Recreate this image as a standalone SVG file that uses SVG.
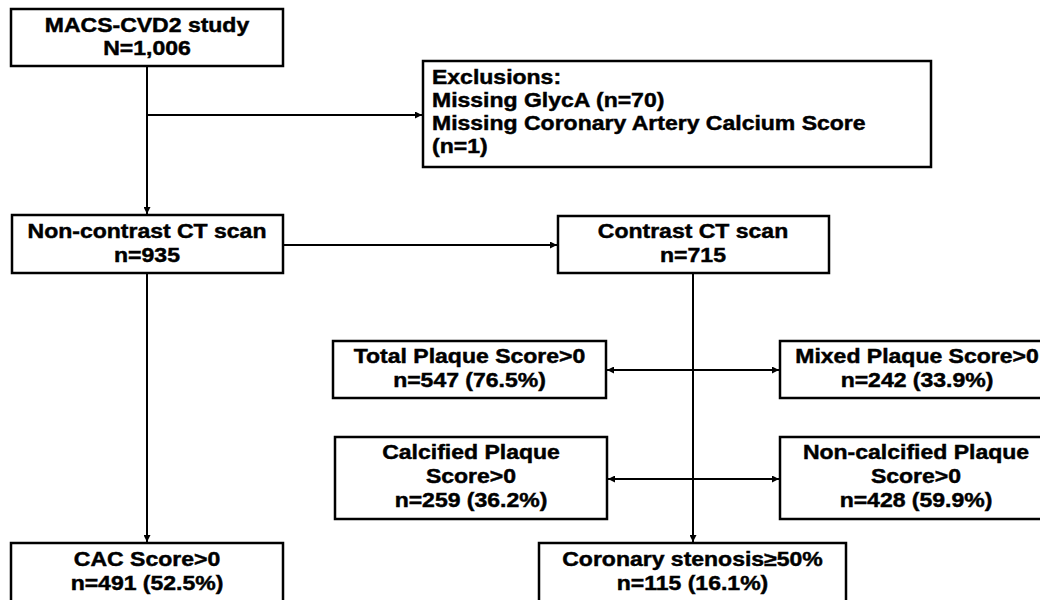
<svg xmlns="http://www.w3.org/2000/svg" width="1040" height="600" viewBox="0 0 1040 600">
  <style>
    .box { fill: #ffffff; stroke: #000000; stroke-width: 2.5; }
    .t { font-family: "Liberation Sans", Arial, sans-serif; font-weight: bold; font-size: 19.5px; fill: #000000; stroke: #000000; stroke-width: 0.45; text-anchor: middle; }
    .tl { font-family: "Liberation Sans", Arial, sans-serif; font-weight: bold; font-size: 19.5px; fill: #000000; stroke: #000000; stroke-width: 0.45; text-anchor: start; }
    .ln { stroke: #000000; stroke-width: 2; fill: none; }
  </style>
  <defs>
    <marker id="ah" viewBox="0 0 10 10" refX="10" refY="5" markerWidth="8" markerHeight="7" markerUnits="userSpaceOnUse" orient="auto-start-reverse">
      <path d="M0,0 L10,5 L0,10 z" fill="#000000"/>
    </marker>
  </defs>
  <rect width="1040" height="600" fill="#ffffff"/>

  <g id="connectors">
    <line class="ln" x1="147" y1="66" x2="147" y2="214" marker-end="url(#ah)"/>
    <line class="ln" x1="147" y1="115" x2="422" y2="115" marker-end="url(#ah)"/>
    <line class="ln" x1="283" y1="245" x2="557" y2="245" marker-end="url(#ah)"/>
    <line class="ln" x1="147" y1="273" x2="147" y2="542" marker-end="url(#ah)"/>
    <line class="ln" x1="693" y1="273" x2="693" y2="542" marker-end="url(#ah)"/>
    <line class="ln" x1="607" y1="370" x2="779" y2="370" marker-start="url(#ah)" marker-end="url(#ah)"/>
    <line class="ln" x1="608" y1="479" x2="779" y2="479" marker-start="url(#ah)" marker-end="url(#ah)"/>
  </g>

  <g id="macs">
    <rect class="box" x="11" y="9" width="272" height="57"/>
    <text class="t" transform="translate(147 0) scale(1.18 1)" x="0" y="32">MACS-CVD2 study</text>
    <text class="t" transform="translate(147 0) scale(1.18 1)" x="0" y="55">N=1,006</text>
  </g>

  <g id="exclusions">
    <rect class="box" x="423" y="61" width="508" height="106"/>
    <text class="tl" transform="translate(432 0) scale(1.18 1)" x="0" y="84">Exclusions:</text>
    <text class="tl" transform="translate(432 0) scale(1.18 1)" x="0" y="107">Missing GlycA (n=70)</text>
    <text class="tl" transform="translate(432 0) scale(1.18 1)" x="0" y="130">Missing Coronary Artery Calcium Score</text>
    <text class="tl" transform="translate(432 0) scale(1.18 1)" x="0" y="153">(n=1)</text>
  </g>

  <g id="noncontrast">
    <rect class="box" x="12" y="215" width="271" height="58"/>
    <text class="t" transform="translate(147 0) scale(1.18 1)" x="0" y="238">Non-contrast CT scan</text>
    <text class="t" transform="translate(147 0) scale(1.18 1)" x="0" y="262">n=935</text>
  </g>

  <g id="contrast">
    <rect class="box" x="558" y="216" width="271" height="57"/>
    <text class="t" transform="translate(693 0) scale(1.18 1)" x="0" y="238">Contrast CT scan</text>
    <text class="t" transform="translate(693 0) scale(1.18 1)" x="0" y="262">n=715</text>
  </g>

  <g id="totalplaque">
    <rect class="box" x="333" y="341" width="273" height="57"/>
    <text class="t" transform="translate(469.5 0) scale(1.18 1)" x="0" y="363">Total Plaque Score&gt;0</text>
    <text class="t" transform="translate(469.5 0) scale(1.18 1)" x="0" y="387">n=547 (76.5%)</text>
  </g>

  <g id="mixedplaque">
    <rect class="box" x="780" y="341" width="274" height="57"/>
    <text class="t" transform="translate(917 0) scale(1.18 1)" x="0" y="363">Mixed Plaque Score&gt;0</text>
    <text class="t" transform="translate(917 0) scale(1.18 1)" x="0" y="387">n=242 (33.9%)</text>
  </g>

  <g id="calcified">
    <rect class="box" x="335" y="437" width="272" height="82"/>
    <text class="t" transform="translate(471 0) scale(1.18 1)" x="0" y="459">Calcified Plaque</text>
    <text class="t" transform="translate(471 0) scale(1.18 1)" x="0" y="483">Score&gt;0</text>
    <text class="t" transform="translate(471 0) scale(1.18 1)" x="0" y="507">n=259 (36.2%)</text>
  </g>

  <g id="noncalcified">
    <rect class="box" x="780" y="437" width="274" height="82"/>
    <text class="t" transform="translate(916 0) scale(1.18 1)" x="0" y="459">Non-calcified Plaque</text>
    <text class="t" transform="translate(916 0) scale(1.18 1)" x="0" y="483">Score&gt;0</text>
    <text class="t" transform="translate(916 0) scale(1.18 1)" x="0" y="507">n=428 (59.9%)</text>
  </g>

  <g id="cac">
    <rect class="box" x="11" y="543" width="272" height="70"/>
    <text class="t" transform="translate(147 0) scale(1.18 1)" x="0" y="566">CAC Score&gt;0</text>
    <text class="t" transform="translate(147 0) scale(1.18 1)" x="0" y="590">n=491 (52.5%)</text>
  </g>

  <g id="stenosis">
    <rect class="box" x="539" y="543" width="307" height="70"/>
    <text class="t" transform="translate(692.5 0) scale(1.18 1)" x="0" y="566">Coronary stenosis≥50%</text>
    <text class="t" transform="translate(692.5 0) scale(1.18 1)" x="0" y="590">n=115 (16.1%)</text>
  </g>
</svg>
